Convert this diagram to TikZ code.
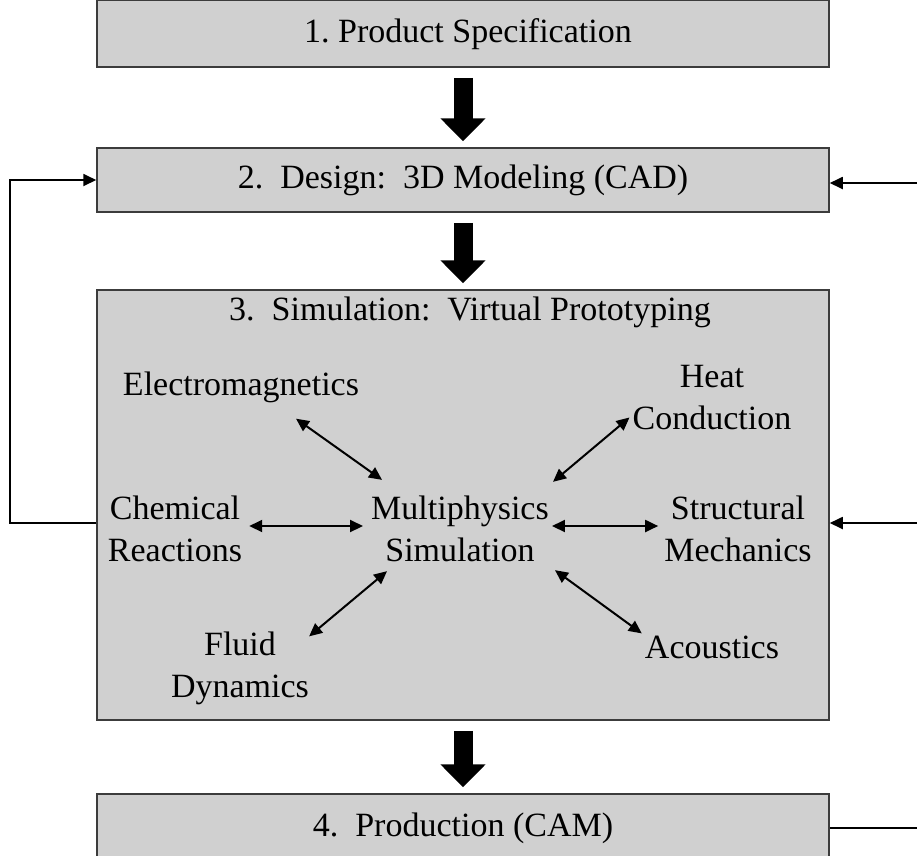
\documentclass[tikz,border=0pt]{standalone}
\usepackage{fontspec}
\setmainfont{Liberation Serif}
\usetikzlibrary{arrows.meta,calc}
\definecolor{boxfill}{RGB}{208,208,208}
\definecolor{boxline}{RGB}{60,60,60}
\frenchspacing
\begin{document}
\begin{tikzpicture}[x=1pt,y=-1pt,
  stage/.style={draw=boxline, line width=1.5pt, fill=boxfill, minimum width=732pt,
    inner sep=0pt, font=\fontsize{34}{42}\selectfont},
  txt/.style={align=center, inner sep=0pt, font=\fontsize{34}{42}\selectfont},
  bigarrow/.style={line width=19pt, -{Triangle[length=23pt,width=44pt]},
    shorten <=10pt, shorten >=6pt},
  feedback/.style={line width=1.8pt, -{Triangle[length=13pt,width=12pt]}},
  link/.style={line width=2pt,
    {Triangle[length=13pt,width=12pt]}-{Triangle[length=13pt,width=12pt]}}]

\useasboundingbox (0,0) rectangle (917,855);
\fill[white] (0,0) rectangle (917,855);

% process stages
\node[stage, minimum height=66.5pt] (b1) at (463,33.75) {\hspace*{10pt}1. Product Specification};
\node[stage, minimum height=64pt] (b2) at (463,180) {2.\ \ Design:\ \ 3D Modeling (CAD)};
\node[stage, minimum height=430pt] (b3) at (463,505) {};
\node[txt] (title) at (470,312) {3.\ \ Simulation:\ \ Virtual Prototyping};
\node[stage, minimum height=68pt] (b4) at (463,828) {4.\ \ Production (CAM)};

% flow between stages
\draw[bigarrow] (b1) -- (b2);
\draw[bigarrow] (b2) -- (b3);
\draw[bigarrow] (b3) -- (b4);

% coupled physics
\node[txt] (em) at (241,387) {Electromagnetics};
\node[txt] (heat) at (712,398) {Heat\\Conduction};
\node[txt] (chem) at (175,529) {Chemical\\Reactions};
\node[txt] (mp) at (460,529) {Multiphysics\\Simulation};
\node[txt] (struct) at (738,529) {Structural\\Mechanics};
\node[txt] (fluid) at (240,668) {Fluid\\Dynamics};
\node[txt] (acou) at (712,647) {Acoustics};

\draw[link] ($(em.south)+(55,16)$) -- ($(mp.north west)+(11,-16)$);
\draw[link] ($(mp.north east)+(4,-14)$) -- ($(heat.south west)+(-3,-13)$);
\draw[link] ($(chem.east)+(7,-3)$) -- ($(mp.west)+(-8,-3)$);
\draw[link] ($(mp.east)+(3,-3)$) -- ($(struct.west)+(-6,-3)$);
\draw[link] ($(fluid.north east)+(0,5)$) -- ($(mp.south west)+(16,9)$);
\draw[link] ($(mp.south east)+(6,8)$) -- ($(acou.north west)+(-3,-2)$);

% feedback loops
\coordinate (edge) at (917,0);
\draw[feedback] ($(b3.west)+(0,18)$) -- ++(-86,0) |- (b2.west);
\draw[feedback] ($(b2.east -| edge)+(0,3)$) -- ($(b2.east)+(0,3)$);
\draw[feedback] ($(b3.east -| edge)+(0,18)$) -- ($(b3.east)+(0,18)$);
\draw[line width=1.8pt] (b4.east) -- (b4.east -| edge);
\end{tikzpicture}
\end{document}
